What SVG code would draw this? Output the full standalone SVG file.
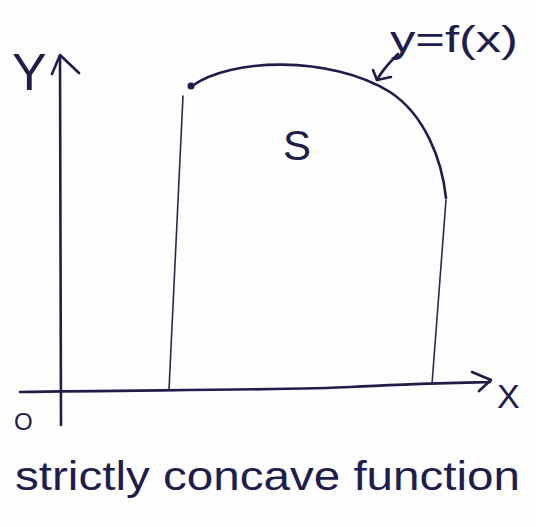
<svg xmlns="http://www.w3.org/2000/svg" width="536" height="527" viewBox="0 0 536 527">
<style>
.ln{fill:none;stroke:#201d4d;stroke-width:2.6;stroke-linecap:round;stroke-linejoin:round}
.th{fill:none;stroke:#2a2850;stroke-width:1.6;stroke-linecap:round}
.t{font-family:"Liberation Sans",Arial,sans-serif;fill:#201d4d}
</style>
<rect width="536" height="527" fill="#fdfdfd"/>
<g id="axes">
<path class="ln" d="M61,425 L60,56"/>
<path class="ln" d="M52,74 L60,55 L79,73"/>
<path class="ln" d="M20,392 C150,390 300,390 350,387 C400,384 450,383 490,382"/>
<path class="ln" d="M472,372 L491,380 L479,391"/>
</g>
<g id="curve">
<path class="ln" d="M192,86 C230,58 330,55 390,92 C425,115 442,160 446,198"/>
<circle cx="191" cy="86" r="3.5" fill="#201d4d"/>
<path class="ln" d="M398,54 C390,62 382,70 377,80"/>
<path class="ln" d="M373,70 L377,80 L391,77"/>
</g>
<g id="verticals">
<path class="th" d="M183,96 L169,390"/>
<path class="th" d="M446,200 L432,384"/>
</g>
<g id="labels">
<text class="t" x="12" y="90" font-size="52" font-weight="300">Y</text>
<text class="t" x="390" y="52" font-size="36" textLength="128" lengthAdjust="spacingAndGlyphs">y=f(x)</text>
<text class="t" x="283" y="160" font-size="42">S</text>
<text class="t" x="14" y="430" font-size="24">O</text>
<text class="t" x="497" y="408" font-size="34">X</text>
<text class="t" x="15" y="490" font-size="40" textLength="505" lengthAdjust="spacingAndGlyphs">strictly concave function</text>
</g>
</svg>
